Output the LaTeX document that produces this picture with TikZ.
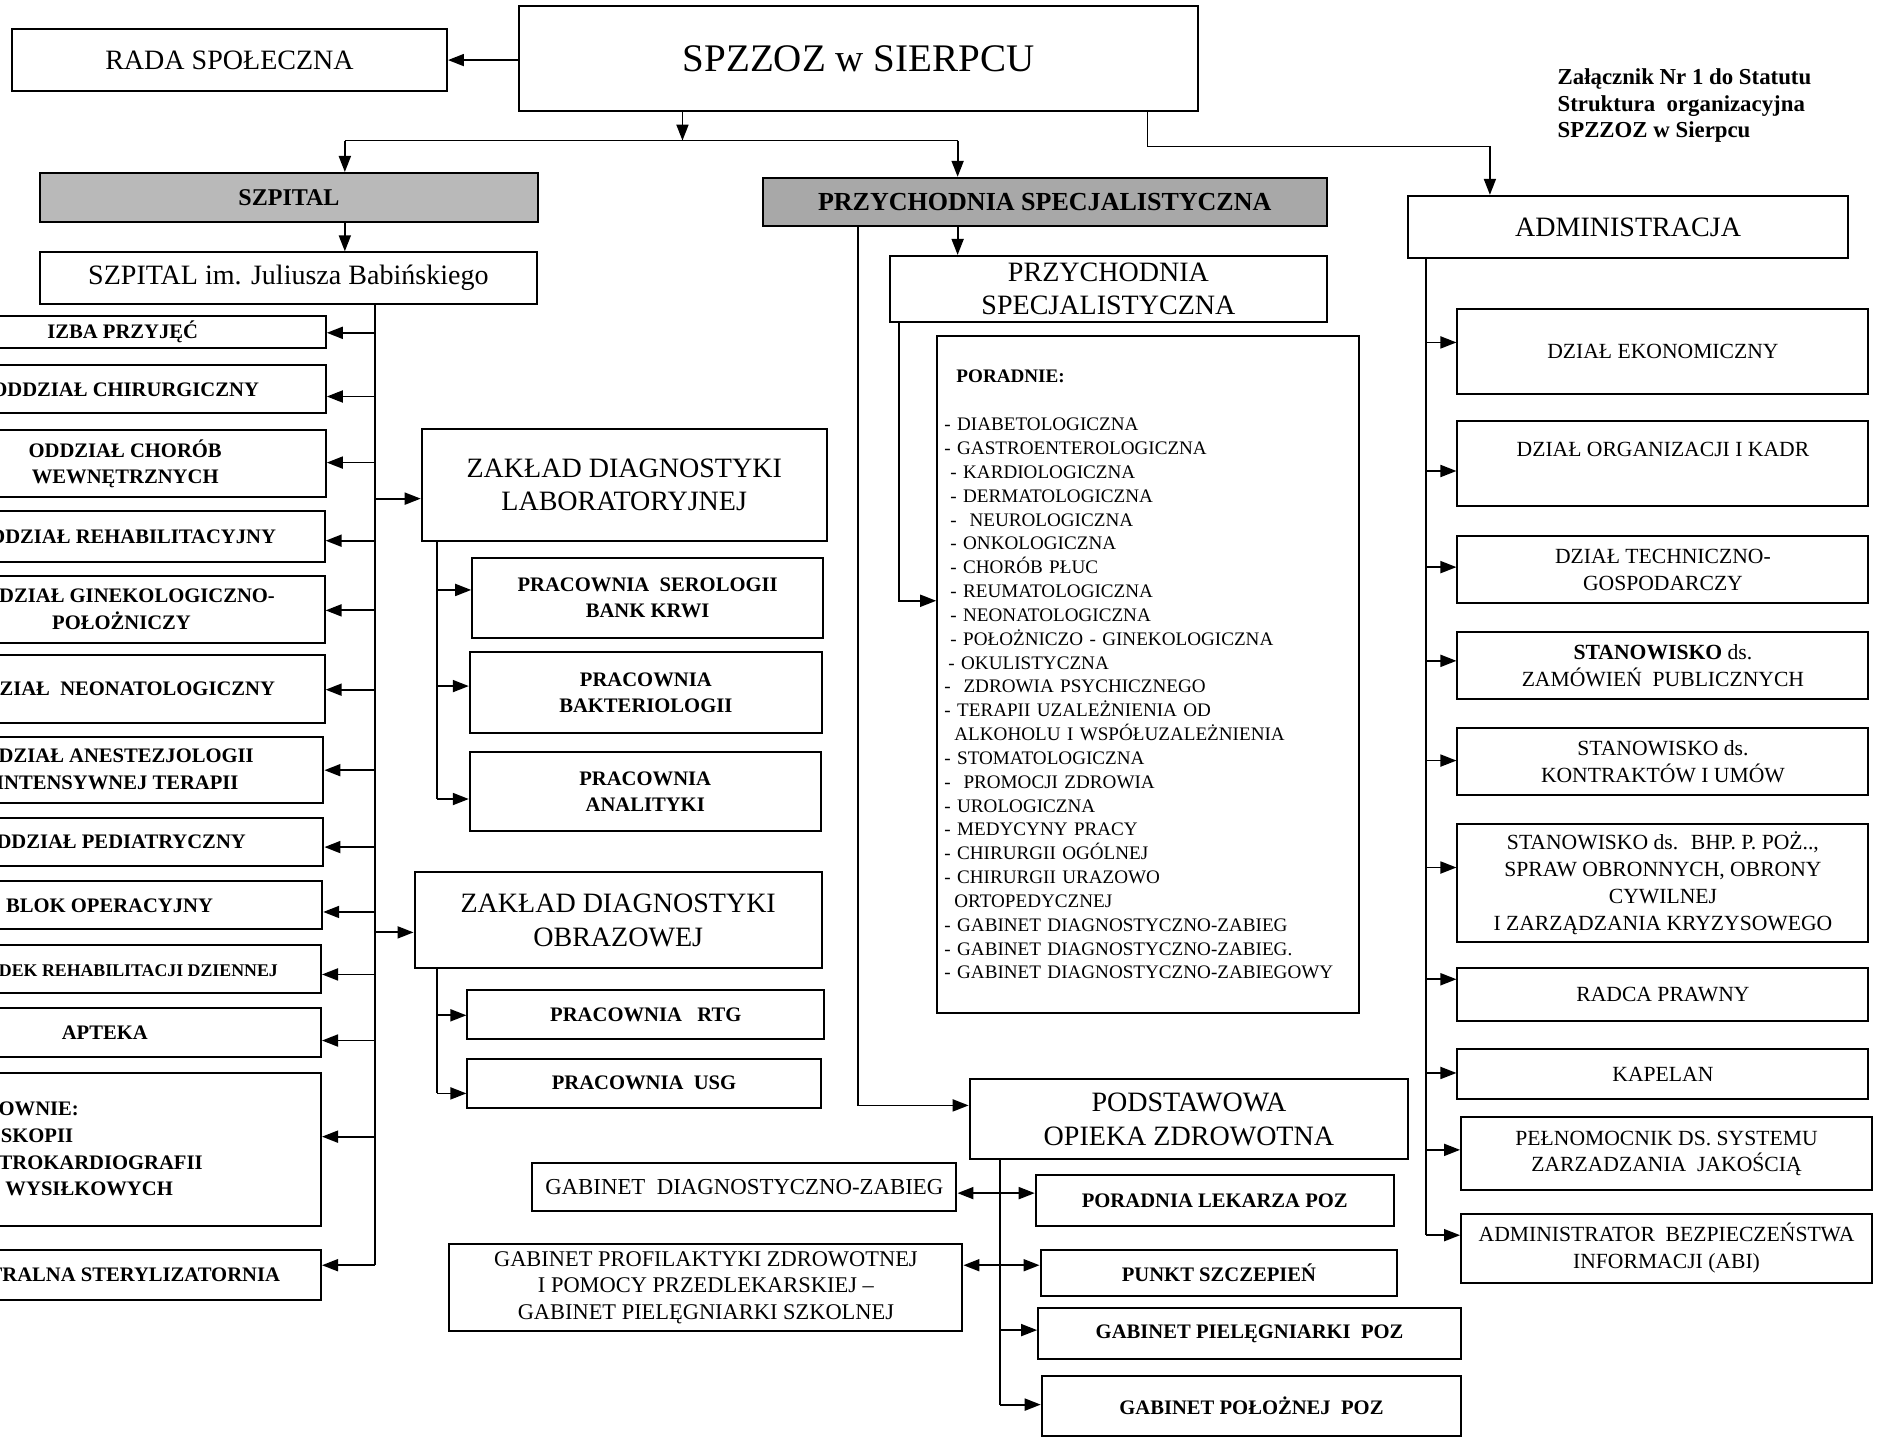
\documentclass[tikz,border=0pt]{standalone}
\usepackage{fontspec}
\setmainfont{Liberation Serif}
\usetikzlibrary{arrows.meta}

\begin{document}
\begin{tikzpicture}[x=0.6pt,y=-0.6pt,
    box/.style={draw,line width=1pt,align=center,inner sep=1pt,font=\fontsize{11}{13.3}\selectfont},
    duzy/.style={box,font=\fontsize{14}{16.8}\selectfont},
    oddz/.style={box,anchor=east,font=\bfseries\fontsize{10.3}{13.3}\selectfont},
    prac/.style={box,font=\bfseries\fontsize{10.3}{13.3}\selectfont},
    adm/.style={box,minimum width=205.2pt,font=\fontsize{10.8}{13.4}\selectfont},
    pasek/.style={draw,line width=1pt,fill=gray!55,font=\bfseries\fontsize{13}{15}\selectfont},
    arr/.style={-{Triangle[length=8pt,width=6pt]},line width=0.9pt},
    lin/.style={line width=0.9pt}]
\useasboundingbox (0,0) rectangle (1568,1197);
\clip (0,0) rectangle (1568,1197);

% gora
\node[box,minimum width=339pt,minimum height=52.2pt,font=\fontsize{19.5}{23}\selectfont] (glowny) at (714.5,48.5) {SPZZOZ w SIERPCU};
\node[duzy,minimum width=217.2pt,minimum height=31.2pt] (rada) at (191,50) {RADA SPOŁECZNA};
\node[anchor=north west,inner sep=0pt,align=left,font=\bfseries\fontsize{11.4}{13.2}\selectfont] (zal) at (1296,57) {Załącznik Nr 1 do Statutu\\Struktura~ organizacyjna\\SPZZOZ w Sierpcu};
\node[pasek,minimum width=249pt,minimum height=24.6pt,font=\bfseries\fontsize{12}{14}\selectfont] (bannerS) at (240.5,164.5) {SZPITAL};
\node[pasek,fill=gray!68,minimum width=281.4pt,minimum height=24pt] (bannerP) at (869.5,168) {PRZYCHODNIA SPECJALISTYCZNA};
\node[duzy,minimum width=219.6pt,minimum height=31.2pt] (admin) at (1355,189) {ADMINISTRACJA};

% szpital
\node[duzy,minimum width=248.4pt,minimum height=25.8pt] (szpital) at (240,231.5) {SZPITAL im. Juliusza Babińskiego};
\node[oddz,minimum width=202.8pt,minimum height=16.2pt] (izba) at (272,276.5) {IZBA PRZYJĘĆ};
\node[oddz,minimum width=200.4pt,minimum height=24pt] (chir) at (272,324) {ODDZIAŁ CHIRURGICZNY};
\node[oddz,minimum width=200.4pt,minimum height=33.6pt] (chorob) at (272,386) {ODDZIAŁ CHORÓB\\WEWNĘTRZNYCH};
\node[oddz,minimum width=199.2pt,minimum height=25.8pt] (rehab) at (271,446.5) {ODDZIAŁ REHABILITACYJNY};
\node[oddz,minimum width=202.8pt,minimum height=33.6pt] (ginek) at (271,507) {ODDZIAŁ GINEKOLOGICZNO-\\POŁOŻNICZY};
\node[oddz,minimum width=210pt,minimum height=34.2pt] (neo) at (271,573.5) {ODDZIAŁ~ NEONATOLOGICZNY};
\node[oddz,minimum width=212.4pt,minimum height=33pt] (anest) at (270,640.5) {ODDZIAŁ ANESTEZJOLOGII\\I INTENSYWNEJ TERAPII};
\node[oddz,minimum width=210pt,minimum height=24pt] (ped) at (270,700.5) {ODDZIAŁ PEDIATRYCZNY};
\node[oddz,minimum width=212.4pt,minimum height=24pt] (blok) at (269,753.5) {BLOK OPERACYJNY};
\node[oddz,minimum width=207.6pt,minimum height=24pt,font=\bfseries\fontsize{8.9}{11}\selectfont] (odek) at (268,806.5) {OŚRODEK REHABILITACJI DZIENNEJ};
\node[oddz,minimum width=216pt,minimum height=24.6pt] (apteka) at (268,859.5) {APTEKA};
\node[oddz,minimum width=216pt,minimum height=76.2pt,align=left,text width=163.2pt,inner xsep=26.4pt] (pracownie) at (268,956.5) {PRACOWNIE:\\ENDOSKOPII\\ELEKTROKARDIOGRAFII\\PRÓB WYSIŁKOWYCH};
\node[oddz,minimum width=208.2pt,minimum height=25.2pt] (steryl) at (268,1061) {CENTRALNA STERYLIZATORNIA};

% zaklady diagnostyki
\node[duzy,minimum width=202.2pt,minimum height=55.8pt] (zlab) at (519.5,403.5) {ZAKŁAD DIAGNOSTYKI\\LABORATORYJNEJ};
\node[prac,minimum width=175.2pt,minimum height=40.2pt] (serol) at (539,497.5) {PRACOWNIA~ SEROLOGII\\BANK KRWI};
\node[prac,minimum width=175.8pt,minimum height=40.2pt] (bakt) at (537.5,576.5) {PRACOWNIA\\BAKTERIOLOGII};
\node[prac,minimum width=175.2pt,minimum height=39.6pt] (anal) at (537,659) {PRACOWNIA\\ANALITYKI};
\node[duzy,minimum width=203.4pt,minimum height=48pt] (zobr) at (514.5,766) {ZAKŁAD DIAGNOSTYKI\\OBRAZOWEJ};
\node[prac,minimum width=178.2pt,minimum height=24.6pt] (rtg) at (537.5,844.5) {PRACOWNIA~~ RTG};
\node[prac,minimum width=176.4pt,minimum height=24.6pt] (usg) at (536,901.5) {PRACOWNIA~ USG};

% przychodnia
\node[duzy,minimum width=217.8pt,minimum height=33pt] (przspec) at (922.5,240.5) {PRZYCHODNIA\\SPECJALISTYCZNA};
\node[box,minimum width=210.6pt,minimum height=337.8pt,align=left,text width=203.4pt,inner xsep=3.6pt,font=\fontsize{9.55}{11.9}\selectfont] (poradnie) at (955.5,561.5) {\hspace*{6pt}\textbf{PORADNIE:}\\[12.1pt]
- DIABETOLOGICZNA\\
- GASTROENTEROLOGICZNA\\
\hspace*{3pt}- KARDIOLOGICZNA\\
\hspace*{3pt}- DERMATOLOGICZNA\\
\hspace*{3pt}-~ NEUROLOGICZNA\\
\hspace*{3pt}- ONKOLOGICZNA\\
\hspace*{3pt}- CHORÓB PŁUC\\
\hspace*{3pt}- REUMATOLOGICZNA\\
\hspace*{3pt}- NEONATOLOGICZNA\\
\hspace*{3pt}- POŁOŻNICZO - GINEKOLOGICZNA\\
\hspace*{2pt}- OKULISTYCZNA\\
-~ ZDROWIA PSYCHICZNEGO\\
- TERAPII UZALEŻNIENIA OD\\
\hspace*{5pt}ALKOHOLU I WSPÓŁUZALEŻNIENIA\\
- STOMATOLOGICZNA\\
-~ PROMOCJI ZDROWIA\\
- UROLOGICZNA\\
- MEDYCYNY PRACY\\
- CHIRURGII OGÓLNEJ\\
- CHIRURGII URAZOWO\\
\hspace*{5pt}ORTOPEDYCZNEJ\\
- GABINET DIAGNOSTYCZNO-ZABIEG\\
- GABINET DIAGNOSTYCZNO-ZABIEG.\\
- GABINET DIAGNOSTYCZNO-ZABIEGOWY};
\node[duzy,minimum width=219pt,minimum height=40.2pt] (podst) at (989.5,931.5) {PODSTAWOWA\\OPIEKA ZDROWOTNA};
\node[prac,minimum width=178.8pt,minimum height=25.2pt] (lekarz) at (1011,999) {PORADNIA LEKARZA POZ};
\node[prac,minimum width=178.2pt,minimum height=23.4pt] (szczep) at (1014.5,1059.5) {PUNKT SZCZEPIEŃ};
\node[prac,minimum width=211.2pt,minimum height=25.2pt] (piel) at (1040,1110) {GABINET PIELĘGNIARKI~ POZ};
\node[prac,minimum width=209.4pt,minimum height=30pt] (polozna) at (1041.5,1170) {GABINET POŁOŻNEJ~ POZ};
\node[box,minimum width=211.8pt,minimum height=24pt,font=\fontsize{11.4}{13.3}\selectfont] (gabdiag) at (619.5,988) {GABINET~ DIAGNOSTYCZNO-ZABIEG};
\node[box,minimum width=256.2pt,minimum height=43.8pt,font=\fontsize{11.2}{13.2}\selectfont] (profil) at (587.5,1071.5) {GABINET PROFILAKTYKI ZDROWOTNEJ\\I POMOCY PRZEDLEKARSKIEJ --\\GABINET PIELĘGNIARKI SZKOLNEJ};

% administracja
\node[adm,minimum height=42.6pt] (ekon) at (1384,292.5) {DZIAŁ EKONOMICZNY};
\node[adm,minimum height=42.6pt] (kadr) at (1384,385.5) {DZIAŁ ORGANIZACJI I KADR\\~};
\node[adm,minimum height=33.6pt] (tech) at (1384,474) {DZIAŁ TECHNICZNO-\\GOSPODARCZY};
\node[adm,minimum height=33.6pt] (zamow) at (1384,554) {\textbf{STANOWISKO} ds.\\ZAMÓWIEŃ~ PUBLICZNYCH};
\node[adm,minimum height=33.6pt] (kontr) at (1384,634) {STANOWISKO ds.\\KONTRAKTÓW I UMÓW};
\node[adm,minimum height=58.8pt] (bhp) at (1384,735) {STANOWISKO ds.~ BHP. P. POŻ..,\\SPRAW OBRONNYCH, OBRONY\\CYWILNEJ\\I ZARZĄDZANIA KRYZYSOWEGO};
\node[adm,minimum height=26.4pt] (radca) at (1384,828) {RADCA PRAWNY};
\node[adm,minimum height=25.2pt] (kapelan) at (1384,894) {KAPELAN};
\node[adm,minimum height=36pt] (pelnom) at (1387,960) {PEŁNOMOCNIK DS. SYSTEMU\\ZARZADZANIA~ JAKOŚCIĄ};
\node[adm,minimum height=34.8pt] (abi) at (1387,1039) {ADMINISTRATOR~ BEZPIECZEŃSTWA\\INFORMACJI (ABI)};

% polaczenia gora
\draw[arr] (glowny.west |- rada.east) -- (rada.east);
\coordinate (rozg) at (568,117);
\coordinate (rozgS) at (287,117);
\coordinate (rozgP) at (797,117);
\draw[arr] (glowny.south -| rozg) -- (rozg);
\draw[lin] (rozgS) -- (rozgP);
\draw[arr] (rozgS) -- (bannerS.north -| rozgS);
\draw[arr] (rozgP) -- (bannerP.north -| rozgP);
\coordinate (admA) at (955,122);
\coordinate (admB) at (1240,122);
\draw[arr] (glowny.south -| admA) -- (admA) -- (admB) -- (admin.north -| admB);

% polaczenia szpital
\draw[arr] (bannerS.south -| rozgS) -- (szpital.north -| rozgS);
\coordinate (lewa) at (312,1053);
\draw[lin] (szpital.south -| lewa) -- (lewa);
\foreach \n/\y in {izba/277,chir/330,chorob/385,rehab/450,ginek/508,neo/574,anest/641,ped/705,blok/759,odek/811,apteka/866,pracownie/946,steryl/1053}
    \draw[arr] (lewa |- 0,\y) -- (\n.east |- 0,\y);
\draw[arr] (lewa |- 0,415) -- (zlab.west |- 0,415);
\draw[arr] (lewa |- 0,776) -- (zobr.west |- 0,776);
\coordinate (labL) at (364,665);
\draw[lin] (zlab.south -| labL) -- (labL);
\foreach \n/\y in {serol/491,bakt/571,anal/665}
    \draw[arr] (labL |- 0,\y) -- (\n.west |- 0,\y);
\coordinate (obrL) at (364,910);
\draw[lin] (zobr.south -| obrL) -- (obrL);
\foreach \n/\y in {rtg/845,usg/910}
    \draw[arr] (obrL |- 0,\y) -- (\n.west |- 0,\y);

% polaczenia przychodnia
\draw[arr] (bannerP.south -| rozgP) -- (przspec.north -| rozgP);
\coordinate (pozL) at (714,920);
\draw[arr] (bannerP.south -| pozL) -- (pozL) -- (podst.west |- pozL);
\coordinate (porL) at (748,500);
\draw[arr] (przspec.south -| porL) -- (porL) -- (poradnie.west |- porL);
\coordinate (pozP) at (832,1169);
\draw[lin] (podst.south -| pozP) -- (pozP);
\foreach \n/\y in {lekarz/993,szczep/1053,piel/1107,polozna/1169}
    \draw[arr] (pozP |- 0,\y) -- (\n.west |- 0,\y);
\foreach \n/\y in {gabdiag/993,profil/1053}
    \draw[arr] (pozP |- 0,\y) -- (\n.east |- 0,\y);

% polaczenia administracja
\coordinate (admL) at (1187,1028);
\draw[lin] (admin.south -| admL) -- (admL);
\foreach \n/\y in {ekon/285,kadr/392,tech/472,zamow/550,kontr/633,bhp/722,radca/815,kapelan/893,pelnom/957,abi/1028}
    \draw[arr] (admL |- 0,\y) -- (\n.west |- 0,\y);
\end{tikzpicture}
\end{document}
